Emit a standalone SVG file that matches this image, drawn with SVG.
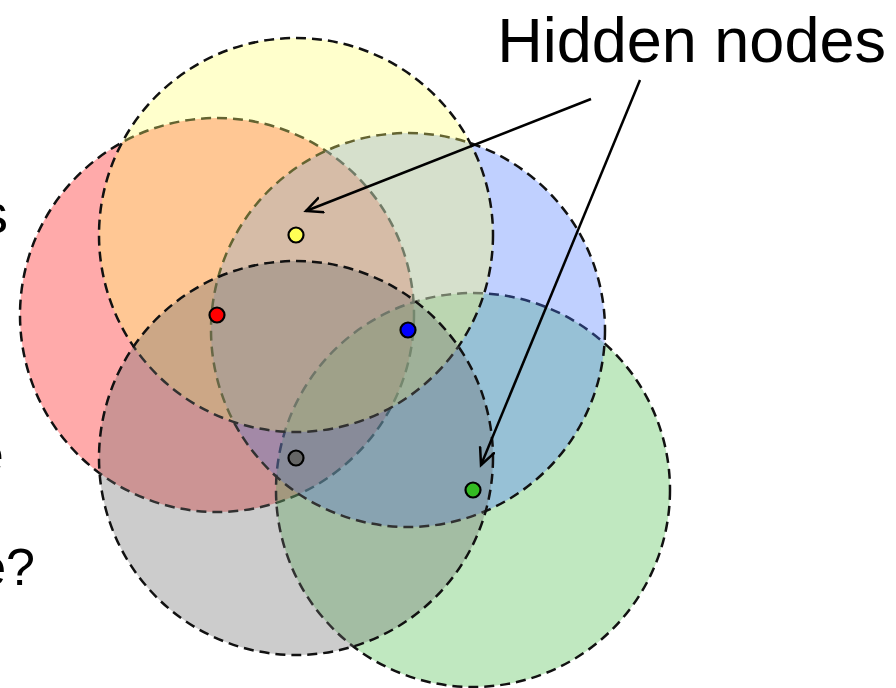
<svg xmlns="http://www.w3.org/2000/svg" width="896" height="688" viewBox="0 0 896 688">
<style>
.c{stroke:#111;stroke-width:2.5;stroke-dasharray:10,6;fill-opacity:0.35}
.d{stroke:#000;stroke-width:2.2}
.t{font-family:"Liberation Sans",Arial,sans-serif;fill:#000}
.a{stroke:#000;stroke-width:2.5;fill:none}
</style>
<defs>
<marker id="arr" markerWidth="20" markerHeight="20" refX="17" refY="9" orient="auto" markerUnits="userSpaceOnUse">
<path d="M0,1 L17,9 L0,17" fill="none" stroke="#000" stroke-width="2.5"/>
</marker>
</defs>
<rect width="896" height="688" fill="#fff"/>
<g id="circles">
<circle id="red-range" class="c" cx="217" cy="315" r="197" fill="rgb(255,12,12)"/>
<circle id="green-range" class="c" cx="473" cy="490" r="197" fill="rgb(75,189,75)"/>
<circle id="blue-range" class="c" cx="408" cy="330" r="197" fill="rgb(75,121,255)"/>
<circle id="yellow-range" class="c" cx="296" cy="235" r="197" fill="rgb(255,255,109)"/>
<circle id="gray-range" class="c" cx="296" cy="458" r="197" fill="rgb(109,109,109)"/>
</g>
<g id="node-yellow"><circle class="d" cx="296" cy="235" r="7.5" fill="#ffff55"/></g>
<g id="node-red"><circle class="d" cx="217" cy="315" r="7.5" fill="#ff0000"/></g>
<g id="node-blue"><circle class="d" cx="408" cy="330" r="7.5" fill="#0000ff"/></g>
<g id="node-gray"><circle class="d" cx="296" cy="458" r="7.5" fill="#666666"/></g>
<g id="node-green"><circle class="d" cx="473" cy="490" r="7.5" fill="#33bb22"/></g>
<g id="connectors">
<line class="a" x1="591" y1="99" x2="306" y2="211" marker-end="url(#arr)"/>
<line class="a" x1="640" y1="80" x2="481" y2="465" marker-end="url(#arr)"/>
</g>
<g id="labels">
<text class="t" x="886" y="62" font-size="63" text-anchor="end">Hidden nodes</text>
<text class="t" x="8" y="233" font-size="56" text-anchor="end">s</text>
<text class="t" x="4" y="473" font-size="56" text-anchor="end">e</text>
<text class="t" x="35" y="585" font-size="52" text-anchor="end">e?</text>
</g>
</svg>
